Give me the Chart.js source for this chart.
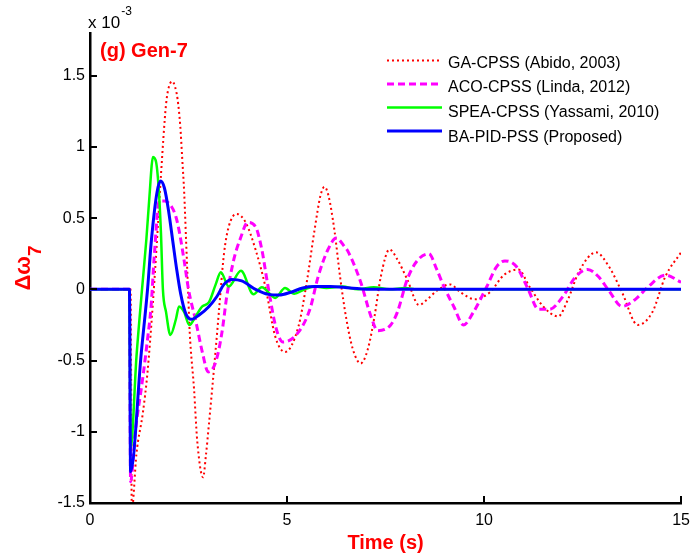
<!DOCTYPE html>
<html>
<head>
<meta charset="utf-8">
<script src="https://cdn.jsdelivr.net/npm/chart.js@4.4.0/dist/chart.umd.min.js"></script>
<style>
  html, body { margin: 0; padding: 0; background: #fff; }
  #wrap { width: 698px; height: 560px; position: relative; }
</style>
</head>
<body>
<div id="wrap"><canvas id="speedChart"></canvas></div>
<script>
// Gen-7 speed deviation after the fault at t = 1 s (values are x 1e-3)
const gaTime = [0, 1.03, 1.06, 1.18, 1.34, 1.46, 1.59, 1.69, 1.8, 1.93, 2.0, 2.09, 2.16, 2.22, 2.29, 2.34, 2.39, 2.44, 2.49, 2.53, 2.64, 2.72, 2.87, 2.94, 3.02, 3.1, 3.19, 3.27, 3.4, 3.52, 3.72, 3.95, 4.2, 4.45, 4.7, 4.95, 5.29, 5.5, 5.7, 5.85, 5.95, 6.05, 6.2, 6.35, 6.5, 6.67, 6.87, 7.05, 7.22, 7.38, 7.6, 7.8, 8.05, 8.35, 8.56, 8.8, 9.14, 9.4, 9.77, 10.15, 10.5, 10.87, 11.15, 11.5, 11.88, 12.13, 12.4, 12.84, 13.17, 13.5, 13.9, 14.27, 14.6, 15];
const gaDev = [0, 0, -1.55, -1.15, -0.87, -0.58, -0.12, 0.3, 0.8, 1.3, 1.42, 1.46, 1.42, 1.34, 1.15, 0.92, 0.68, 0.33, -0.02, -0.3, -0.7, -1.06, -1.32, -1.17, -0.94, -0.7, -0.42, -0.16, 0.25, 0.44, 0.53, 0.47, 0.28, 0.02, -0.33, -0.44, -0.26, 0.05, 0.42, 0.66, 0.72, 0.66, 0.42, 0.08, -0.2, -0.42, -0.52, -0.42, -0.19, 0.09, 0.28, 0.21, 0.07, -0.11, -0.07, -0.01, 0.035, -0.02, -0.07, -0.02, 0.1, 0.14, 0.02, -0.12, -0.19, -0.07, 0.12, 0.26, 0.16, -0.02, -0.25, -0.16, 0.09, 0.26];

const acoTime = [0, 1.0, 1.03, 1.15, 1.34, 1.46, 1.55, 1.63, 1.76, 1.9, 2.07, 2.18, 2.27, 2.39, 2.5, 2.69, 2.85, 3.0, 3.19, 3.35, 3.47, 3.65, 3.82, 4.0, 4.2, 4.36, 4.5, 4.73, 4.9, 5.29, 5.58, 5.79, 6.04, 6.25, 6.46, 6.54, 6.87, 7.13, 7.3, 7.63, 7.8, 8.05, 8.3, 8.6, 8.8, 8.98, 9.23, 9.48, 9.73, 10.07, 10.32, 10.53, 10.82, 11.12, 11.38, 11.66, 12.0, 12.3, 12.63, 12.9, 13.17, 13.5, 13.84, 14.17, 14.6, 15];
const acoDev = [0, 0, -1.35, -1.0, -0.62, -0.35, -0.12, 0.23, 0.62, 0.62, 0.58, 0.51, 0.4, 0.2, 0.0, -0.23, -0.44, -0.58, -0.51, -0.3, -0.05, 0.21, 0.36, 0.47, 0.44, 0.28, 0.05, -0.28, -0.37, -0.3, -0.14, 0.09, 0.28, 0.36, 0.3, 0.27, 0.05, -0.19, -0.29, -0.25, -0.16, 0.07, 0.2, 0.25, 0.14, 0.02, -0.12, -0.25, -0.16, 0.02, 0.16, 0.2, 0.16, 0.0, -0.14, -0.14, -0.05, 0.08, 0.14, 0.09, -0.01, -0.12, -0.07, 0.02, 0.1, 0.05];

const speaTime = [0, 1.0, 1.03, 1.18, 1.32, 1.43, 1.5, 1.6, 1.68, 1.75, 1.8, 1.85, 1.93, 2.04, 2.18, 2.26, 2.39, 2.52, 2.68, 2.85, 3.02, 3.19, 3.32, 3.52, 3.83, 4.15, 4.36, 4.7, 4.95, 5.18, 5.45, 5.7, 6.0, 6.4, 6.8, 7.2, 7.6, 8.0, 8.3, 15];
const speaDev = [0, 0, -1.12, -0.47, 0, 0.35, 0.62, 0.93, 0.89, 0.68, 0.4, 0.0, -0.16, -0.32, -0.21, -0.12, -0.16, -0.25, -0.19, -0.12, -0.09, 0.035, 0.12, 0.02, 0.13, -0.035, 0.015, -0.06, 0.01, -0.03, 0.0, 0.02, 0.01, 0.02, 0.0, 0.015, 0.0, 0.01, 0, 0];

const baTime = [0, 1.0, 1.03, 1.3, 1.46, 1.56, 1.7, 1.79, 1.89, 2.0, 2.1, 2.2, 2.3, 2.43, 2.57, 2.77, 3.02, 3.22, 3.4, 3.6, 3.85, 4.2, 4.53, 4.8, 5.1, 5.4, 5.7, 6.1, 6.6, 7.2, 15];
const baDev = [0, 0, -1.28, -0.45, 0, 0.35, 0.68, 0.76, 0.71, 0.54, 0.34, 0.14, -0.03, -0.17, -0.21, -0.18, -0.12, -0.05, 0.035, 0.07, 0.06, 0, -0.035, -0.04, -0.02, 0.01, 0.02, 0.02, 0.01, 0, 0];

const seriesNames = ['GA-CPSS (Abido, 2003)', 'ACO-CPSS (Linda, 2012)', 'SPEA-CPSS (Yassami, 2010)', 'BA-PID-PSS (Proposed)'];
const xTickVals = [0, 5, 10, 15];
const yTickVals = [-1.5, -1, -0.5, 0, 0.5, 1, 1.5];

const FONT = '"Liberation Sans", Arial, sans-serif';
Chart.defaults.font.family = FONT;
Chart.defaults.color = '#000';

const toPoints = (t, v) => t.map((x, i) => ({ x: x, y: v[i] }));

// ticks pointing into the plot, like the matlab axes
const inwardTicks = {
  id: 'inwardTicks',
  afterDraw(chart) {
    const { ctx, chartArea, scales } = chart;
    ctx.save();
    ctx.strokeStyle = '#000';
    ctx.lineWidth = 2;
    scales.x.ticks.forEach(t => {
      const px = Math.round(scales.x.getPixelForValue(t.value));
      ctx.beginPath();
      ctx.moveTo(px, chartArea.bottom);
      ctx.lineTo(px, chartArea.bottom - 7);
      ctx.stroke();
    });
    scales.y.ticks.forEach(t => {
      const py = Math.round(scales.y.getPixelForValue(t.value));
      ctx.beginPath();
      ctx.moveTo(chartArea.left, py);
      ctx.lineTo(chartArea.left + 7, py);
      ctx.stroke();
    });
    ctx.restore();
  }
};

// exponent note, panel label, y title and the legend
const annotations = {
  id: 'annotations',
  afterDraw(chart) {
    const ctx = chart.ctx;
    ctx.save();
    ctx.textBaseline = 'alphabetic';
    ctx.textAlign = 'left';

    ctx.fillStyle = '#000';
    ctx.font = '17px ' + FONT;
    ctx.fillText('x 10', 88, 28);
    const wExp = ctx.measureText('x 10').width;
    ctx.font = '12px ' + FONT;
    ctx.fillText('-3', 88 + wExp + 1, 15);

    ctx.fillStyle = '#f00';
    ctx.font = 'bold 20px ' + FONT;
    ctx.fillText('(g) Gen-7', 100, 57);

    // legend, no frame
    ctx.font = '16px ' + FONT;
    chart.data.datasets.forEach((ds, i) => {
      const ty = 67.7 + i * 24.6;
      const ly = 60.5 + i * 23.5;
      ctx.save();
      ctx.strokeStyle = ds.borderColor;
      ctx.lineWidth = ds.borderWidth;
      ctx.setLineDash(ds.borderDash || []);
      ctx.beginPath();
      ctx.moveTo(387, ly);
      ctx.lineTo(442, ly);
      ctx.stroke();
      ctx.restore();
      ctx.fillStyle = '#000';
      ctx.fillText(ds.label, 448, ty);
    });

    // y title with subscript, rotated
    ctx.translate(22, 268);
    ctx.rotate(-Math.PI / 2);
    ctx.fillStyle = '#f00';
    ctx.font = 'bold 22px ' + FONT;
    const wMain = ctx.measureText('Δω').width;
    ctx.font = 'bold 19px ' + FONT;
    const wSub = ctx.measureText('7').width;
    const x0 = -(wMain + wSub) / 2;
    ctx.font = 'bold 22px ' + FONT;
    ctx.fillText('Δω', x0, 8);
    ctx.font = 'bold 19px ' + FONT;
    ctx.fillText('7', x0 + wMain, 19);
    ctx.restore();
  }
};

new Chart(document.getElementById('speedChart'), {
  type: 'line',
  data: {
    datasets: [
      { label: seriesNames[0], data: toPoints(gaTime, gaDev), borderColor: '#ff0000', borderWidth: 2, borderDash: [2, 3], order: 3 },
      { label: seriesNames[1], data: toPoints(acoTime, acoDev), borderColor: '#ff00ff', borderWidth: 3, borderDash: [7, 4], order: 2 },
      { label: seriesNames[2], data: toPoints(speaTime, speaDev), borderColor: '#00ff00', borderWidth: 2.5, order: 1 },
      { label: seriesNames[3], data: toPoints(baTime, baDev), borderColor: '#0000ff', borderWidth: 3, order: 0 }
    ]
  },
  options: {
    responsive: true,
    maintainAspectRatio: false,
    animation: false,
    layout: { padding: { top: 33, right: 12, left: 0, bottom: 0 } },
    elements: {
      point: { radius: 0 },
      line: { cubicInterpolationMode: 'monotone', fill: false }
    },
    plugins: {
      legend: { display: false },
      tooltip: { enabled: false }
    },
    scales: {
      x: {
        type: 'linear',
        min: 0,
        max: 15,
        afterBuildTicks: s => { s.ticks = xTickVals.map(v => ({ value: v })); },
        afterFit: s => { s.height = 57; },
        grid: { display: true, drawOnChartArea: false, drawTicks: false },
        border: { display: true, color: '#000', width: 2.5 },
        ticks: { font: { size: 16 }, color: '#000', padding: 8, maxRotation: 0, callback: v => String(v) },
        title: { display: true, text: 'Time (s)', color: '#ff0000', font: { size: 20, weight: 'bold' }, padding: { top: 0, bottom: 5 } }
      },
      y: {
        type: 'linear',
        min: -1.5,
        max: 1.8,
        afterBuildTicks: s => { s.ticks = yTickVals.map(v => ({ value: v })); },
        afterFit: s => { s.width = 90; },
        grid: { display: true, drawOnChartArea: false, drawTicks: false },
        border: { display: true, color: '#000', width: 2.5 },
        ticks: { font: { size: 16 }, color: '#000', padding: 5, callback: v => String(v) }
      }
    }
  },
  plugins: [inwardTicks, annotations]
});
</script>
</body>
</html>
